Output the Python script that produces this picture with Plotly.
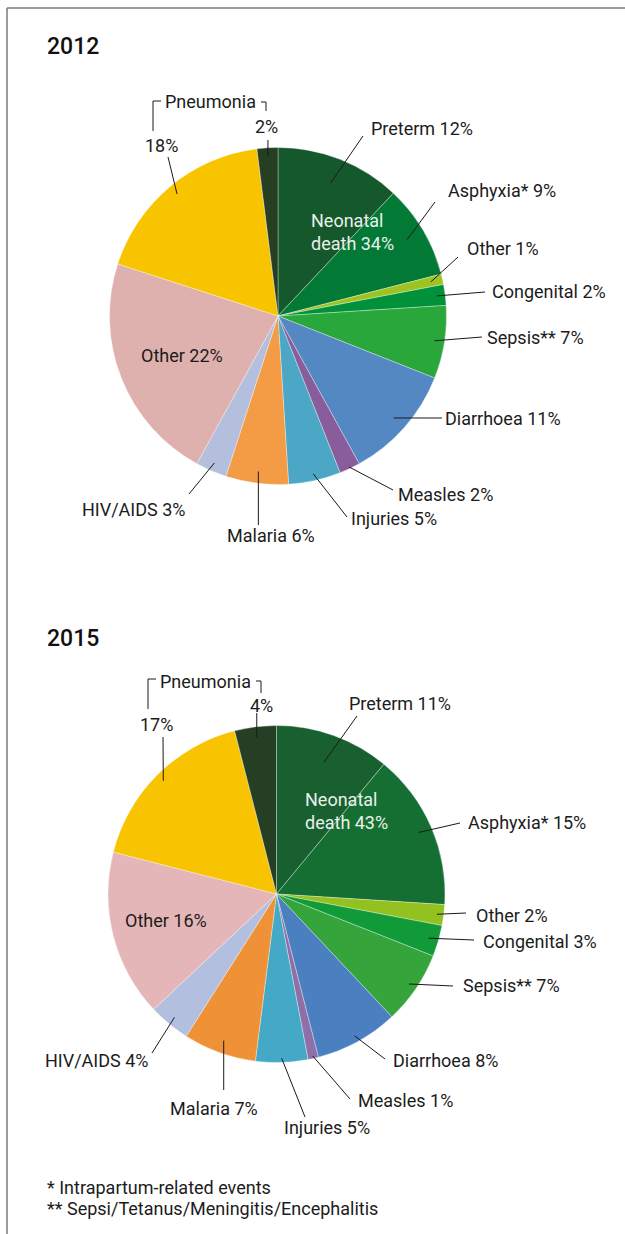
import math
import plotly.graph_objects as go

W, H = 625, 1234

# Causes of under-five deaths, clockwise from 12 o'clock
causes = ["Preterm", "Asphyxia*", "Other", "Congenital", "Sepsis**", "Diarrhoea",
          "Measles", "Injuries", "Malaria", "HIV/AIDS", "Other", "Pneumonia", "Pneumonia"]
slice_ids = ["Preterm", "Asphyxia", "Other (neonatal)", "Congenital", "Sepsis", "Diarrhoea",
             "Measles", "Injuries", "Malaria", "HIV/AIDS", "Other", "Pneumonia",
             "Pneumonia (neonatal)"]
values_2012 = [12, 9, 1, 2, 7, 11, 2, 5, 6, 3, 22, 18, 2]
values_2015 = [11, 15, 2, 3, 7, 8, 1, 5, 7, 4, 16, 17, 4]
neonatal_2012 = 34
neonatal_2015 = 43
years = ["2012", "2015"]

colors_2012 = ["#15582b", "#027a36", "#9cc31f", "#01913a", "#29a73b", "#5388c3", "#895d9c",
               "#4ba7c5", "#f49b45", "#b4bfdd", "#deb0ae", "#f8c400", "#263f23"]
colors_2015 = ["#186030", "#166f32", "#93c11f", "#109a38", "#34a43b", "#4a7fc0", "#8f6fa7",
               "#43a9c7", "#ef9237", "#b3bfdf", "#e4b6b8", "#f8c300", "#263f24"]

footnotes = ["* Intrapartum-related events", "** Sepsi/Tetanus/Meningitis/Encephalitis"]

FONT = "Roboto"
FS = 18
TXT = "#1c1c1c"

# Pie geometry in pixels (centre x, centre y, radius)
pies = [dict(cx=278, cy=316, r=168.5), dict(cx=276.5, cy=894, r=168.5)]

# Label placement per slice: (text x, text y, xanchor, leader end x, leader end y, start radius fraction)
# "in" -> inside label without a leader, "pct" -> percentage only (under the Pneumonia bracket)
place_2012 = [
    (369, 129, "left", 363, 136, 0.85),
    (446, 191, "left", 435, 202, 0.89),
    (465, 248, "left", 458, 257, 0.93),
    (490, 291, "left", 485, 292, 0.95),
    (485, 337, "left", 482, 337, 0.94),
    (443, 418, "left", 442, 418, 0.915),
    (396, 494, "left", 393, 490, 0.99),
    (349, 518, "left", 347, 517, 0.96),
    (271, 535, "center", None, 525, 0.93),
    (188, 509, "right", 189, 494, 0.95),
    (182, 356, "in", None, None, None),
    (161, 145, "pct", 168, 157, 0.94),
    (266, 126, "pct", None, 140, 0.95),
]
place_2015 = [
    (347, 703, "left", 357, 716, 0.83),
    (466, 822, "left", 460, 823, 0.92),
    (474, 915, "left", 466, 913, 0.96),
    (481, 941, "left", 474, 940, 0.94),
    (461, 985, "left", 453, 986, 0.95),
    (391, 1060, "left", 385, 1059, 0.96),
    (356, 1100, "left", 350, 1099, 0.985),
    (282, 1127, "left", 305, 1117, 0.975),
    (214, 1108, "center", None, 1090, 0.925),
    (151, 1060, "right", 152, 1053, 0.95),
    (166, 920, "in", None, None, None),
    (156, 724, "pct", 163, 737, 0.95),
    (261, 705, "pct", None, 713, 0.935),
]
placements = [place_2012, place_2015]
values = [values_2012, values_2015]
colors = [colors_2012, colors_2015]
neonatal = [neonatal_2012, neonatal_2015]

title_pos = [(45, 47), (45, 638)]
neonatal_pos = [(309, 232), (303, 811)]
# Pneumonia bracket: header centre, left bracket path, right bracket path
brackets = [
    dict(c=(210, 101), left=[(153, 131), (153, 101), (161, 101)],
         right=[(261, 102), (266, 102), (266, 111)]),
    dict(c=(205, 681), left=[(148, 709), (148, 679), (156, 679)],
         right=[(256, 681), (261, 681), (261, 693)]),
]


def px(x):
    return x / W


def py(y):
    return 1 - y / H


def path(points):
    return "M " + " L ".join(f"{px(x):.5f},{py(y):.5f}" for x, y in points)


fig = go.Figure()
shapes = []
annotations = []

for k in range(2):
    g = pies[k]
    vals = values[k]
    fig.add_trace(go.Pie(
        labels=slice_ids, values=vals, sort=False, direction="clockwise", rotation=0,
        marker=dict(colors=colors[k], line=dict(color="rgba(255,255,255,0.55)", width=0.6)),
        textinfo="none", hoverinfo="label+percent", showlegend=False,
        domain=dict(x=[px(g["cx"] - g["r"]), px(g["cx"] + g["r"])],
                    y=[py(g["cy"] + g["r"]), py(g["cy"] - g["r"])]),
    ))

    total = sum(vals)
    cum = 0
    for i, v in enumerate(vals):
        mid = 2 * math.pi * (cum + v / 2) / total
        cum += v
        tx, ty, anchor, ex, ey, frac = placements[k][i]
        if anchor == "in":
            annotations.append(dict(x=px(tx), y=py(ty), text=f"{causes[i]} {v}%",
                                    xanchor="center", yanchor="middle"))
            continue
        sx = g["cx"] + g["r"] * frac * math.sin(mid)
        sy = g["cy"] - g["r"] * frac * math.cos(mid)
        if ex is None:
            ex = sx
        shapes.append(dict(type="line", x0=px(sx), y0=py(sy), x1=px(ex), y1=py(ey),
                           line=dict(color="#1a1a1a", width=1)))
        text = f"{v}%" if anchor == "pct" else f"{causes[i]} {v}%"
        xa = "center" if anchor == "pct" else anchor
        annotations.append(dict(x=px(tx), y=py(ty), text=text, xanchor=xa, yanchor="middle"))

    # Pneumonia header with bracket
    b = brackets[k]
    annotations.append(dict(x=px(b["c"][0]), y=py(b["c"][1]), text="Pneumonia",
                            xanchor="center", yanchor="middle"))
    for side in ("left", "right"):
        shapes.append(dict(type="path", path=path(b[side]),
                           line=dict(color="#1a1a1a", width=1)))

    # Year heading
    annotations.append(dict(x=px(title_pos[k][0]), y=py(title_pos[k][1]), text=years[k],
                            xanchor="left", yanchor="middle",
                            font=dict(family=FONT, size=23, color="#111111", weight=500)))
    # Neonatal share inside the pie
    annotations.append(dict(x=px(neonatal_pos[k][0]), y=py(neonatal_pos[k][1]),
                            text=f"Neonatal<br>death {neonatal[k]}%", align="left",
                            xanchor="left", yanchor="middle",
                            font=dict(family=FONT, size=FS, color="#e9f1ea")))

# Footnotes
for j, note in enumerate(footnotes):
    annotations.append(dict(x=px(45), y=py(1187 + 21 * j), text=note,
                            xanchor="left", yanchor="middle",
                            font=dict(family=FONT, size=18, color=TXT)))

# Frame lines (top and left)
shapes.append(dict(type="line", x0=px(7), y0=py(8), x1=1, y1=py(8),
                   line=dict(color="#7a7a7a", width=1.5)))
shapes.append(dict(type="line", x0=px(7), y0=py(8), x1=px(7), y1=0,
                   line=dict(color="#7a7a7a", width=1.5)))

for a in annotations:
    a.setdefault("xref", "paper")
    a.setdefault("yref", "paper")
    a.setdefault("showarrow", False)
    a.setdefault("font", dict(family=FONT, size=FS, color=TXT))
for s in shapes:
    s.setdefault("xref", "paper")
    s.setdefault("yref", "paper")
    s.setdefault("layer", "above")

fig.update_layout(
    width=W, height=H,
    margin=dict(l=0, r=0, t=0, b=0),
    paper_bgcolor="white", plot_bgcolor="white",
    font=dict(family=FONT, size=FS, color=TXT),
    shapes=shapes, annotations=annotations,
)

fig.write_html("out.html")
